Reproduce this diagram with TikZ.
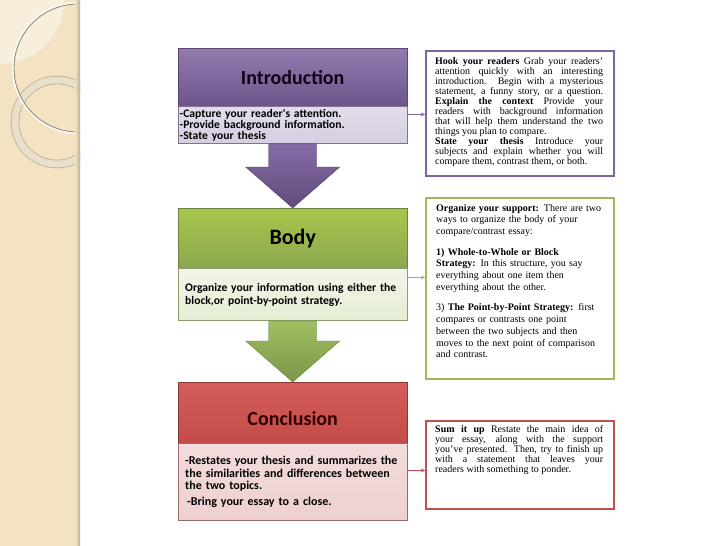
\documentclass[tikz,border=0pt]{standalone}
\usepackage{fontspec}
\setmainfont{Liberation Serif}
\newfontfamily\calibri{Carlito}
\usetikzlibrary{arrows.meta, positioning, calc}

\definecolor{stripBeige}{HTML}{F3E3C2}
\definecolor{stripLight}{HTML}{F7EEDB}
\definecolor{ringEdge}{HTML}{B9AE94}
\definecolor{ringFill}{HTML}{E9E0CB}
\definecolor{notePurple}{HTML}{8064A2}
\definecolor{noteGreen}{HTML}{9BBB59}
\definecolor{noteRed}{HTML}{C0504D}

\tikzset{
    headBox/.style={rectangle, minimum width=229pt, minimum height=58pt, inner sep=0pt, font=\calibri\bfseries\fontsize{20}{24}\selectfont},
    subBox/.style={rectangle, minimum width=229pt, inner ysep=0pt, align=left},
    noteBox/.style={rectangle, draw=#1, line width=2pt, fill=white, minimum width=188pt, inner sep=0pt},
    noteText/.style={anchor=north west, text width=168pt, inner sep=0pt, font=\fontsize{10}{10}\selectfont},
    linkLine/.style={-{Stealth[length=4pt, width=4pt]}, line width=1pt}
}

\begin{document}
\begin{tikzpicture}[x=1pt, y=-1pt]

        % --- Block Arrow Macro ---
        \def\drawBlockArrow#1#2#3#4{
            \shadedraw[top color=#3, bottom color=#4, draw=#4!85!black, thin]
                ($(#1)+(-24,0)$) -- ($(#1)+(24,0)$) -- ($(#2)+(24,-41)$) -- ($(#2)+(47,-41)$)
                -- (#2) -- ($(#2)+(-47,-41)$) -- ($(#2)+(-24,-41)$) -- cycle;
        }

        \useasboundingbox (0,0) rectangle (728,546);
        \fill[white] (0,0) rectangle (728,546);

        % 1. Side strip with rings
        \fill[stripBeige] (0,0) rectangle (80,546);
        \begin{scope}
            \clip (0,0) rectangle (80,546);
            \fill[stripLight] (0,0) circle (64pt);
            \draw[double=ringFill, double distance=7pt, draw=ringEdge, line width=0.8pt] (57,122) circle (42pt);
            \draw[white, line width=2pt] (78,68) circle (65pt);
            \draw[ringEdge!80!black, line width=0.9pt] (78,68) circle (64pt);
        \end{scope}
        \shade[left color=stripBeige, right color=ringEdge] (75,0) rectangle (80,546);

        % 2. Heads and sub boxes
        \node[headBox, anchor=north west, top color=notePurple!85!white, bottom color=notePurple!85!black,
              draw=notePurple!70!black, text=black!85!violet] (introHead) at (178,48) {Introduction};
        \node[subBox, below=0pt of introHead, minimum height=37pt, text width=226pt, inner xsep=1.5pt,
              font=\calibri\bfseries\fontsize{11.6}{11}\selectfont,
              top color=notePurple!22, bottom color=notePurple!32, draw=notePurple!40!gray] (introSub)
              {-Capture your reader's attention.\\-Provide background information.\\-State your thesis};

        \node[headBox, anchor=north west, minimum height=60pt, font=\calibri\bfseries\fontsize{22}{26}\selectfont,
              top color=noteGreen!85!yellow, bottom color=noteGreen!90!black,
              draw=noteGreen!70!black, text=black] (bodyHead) at (178,208) {Body};
        \node[subBox, below=0pt of bodyHead, minimum height=52pt, text width=215pt, inner xsep=7pt,
              font=\calibri\bfseries\fontsize{11.6}{13}\selectfont,
              top color=noteGreen!14, bottom color=noteGreen!26, draw=noteGreen!50!gray] (bodySub)
              {Organize your information using either the\\block,or point-by-point strategy.};

        \node[headBox, anchor=north west, minimum height=61pt, text height=26pt,
              top color=noteRed!80!red!85!white, bottom color=noteRed!95!red,
              draw=noteRed!70!black, text=black!80!red] (conclHead) at (178,382) {Conclusion};
        \node[subBox, below=0pt of conclHead, minimum height=77pt, text width=215pt, inner xsep=7pt,
              font=\calibri\bfseries\fontsize{12}{12.5}\selectfont,
              top color=noteRed!20, bottom color=noteRed!27, draw=noteRed!40!gray] (conclSub)
              {-Restates your thesis and summarizes the\\the similarities and differences between\\the two topics.\\[3.5pt]\hspace*{2pt}-Bring your essay to a close.};

        % 3. Block arrows
        \drawBlockArrow{introSub.south}{bodyHead.north}{notePurple!95!white}{notePurple!75!black}
        \drawBlockArrow{bodySub.south}{conclHead.north}{noteGreen!95!white}{noteGreen!80!black}

        % 4. Note boxes
        \node[noteBox=notePurple, anchor=north west, minimum height=125pt] (introNote) at (425,50) {};
        \node[noteText, align=justify] (introText) at ($(introNote.north west)+(10,7)$)
            {\textbf{Hook your readers} Grab your readers'\linebreak attention quickly with an interesting\linebreak
             introduction. Begin with a mysterious\linebreak statement, a funny story, or a question.\linebreak
             \textbf{Explain the context} Provide your\linebreak readers with background information\linebreak
             that will help them understand the two\linebreak things you plan to compare.\par
             \textbf{State your thesis} Introduce your\linebreak subjects and explain whether you will\linebreak
             compare them, contrast them, or both.};

        \node[noteBox=noteGreen, anchor=north west, minimum height=181pt] (bodyNote) at (425,197) {};
        \node[noteText, align=left, font=\fontsize{10}{11.8}\selectfont] (bodyText) at ($(bodyNote.north west)+(11,7)$)
            {\textbf{Organize your support:} There are two\\ways to organize the body of your\\compare/contrast essay:\\[8.5pt]
             \textbf{1) Whole-to-Whole or Block}\\\textbf{Strategy:} In this structure, you say\\everything about one item then\\everything about the other.\\[8.5pt]
             3) \textbf{The Point-by-Point Strategy:} first\\compares or contrasts one point\\between the two subjects and then\\moves to the next point of comparison\\and contrast.};

        \node[noteBox=noteRed, anchor=north west, minimum height=88pt] (conclNote) at (425,420) {};
        \node[noteText, align=justify] (conclText) at ($(conclNote.north west)+(10,5)$)
            {\textbf{Sum it up} Restate the main idea of\linebreak your essay, along with the support\linebreak
             you've presented. Then, try to finish up\linebreak with a statement that leaves your\linebreak
             readers with something to ponder.};

        % 5. Links from sub boxes to notes
        \coordinate (introLink) at ($(introSub.north east)+(0,8)$);
        \coordinate (bodyLink) at ($(bodySub.north east)+(0,9)$);
        \coordinate (conclLink) at ($(conclSub.north east)+(0,27)$);
        \draw[linkLine, notePurple] (introLink) -- (introLink -| introNote.west);
        \draw[linkLine, noteGreen] (bodyLink) -- (bodyLink -| bodyNote.west);
        \draw[linkLine, noteRed] (conclLink) -- (conclLink -| conclNote.west);

\end{tikzpicture}
\end{document}
